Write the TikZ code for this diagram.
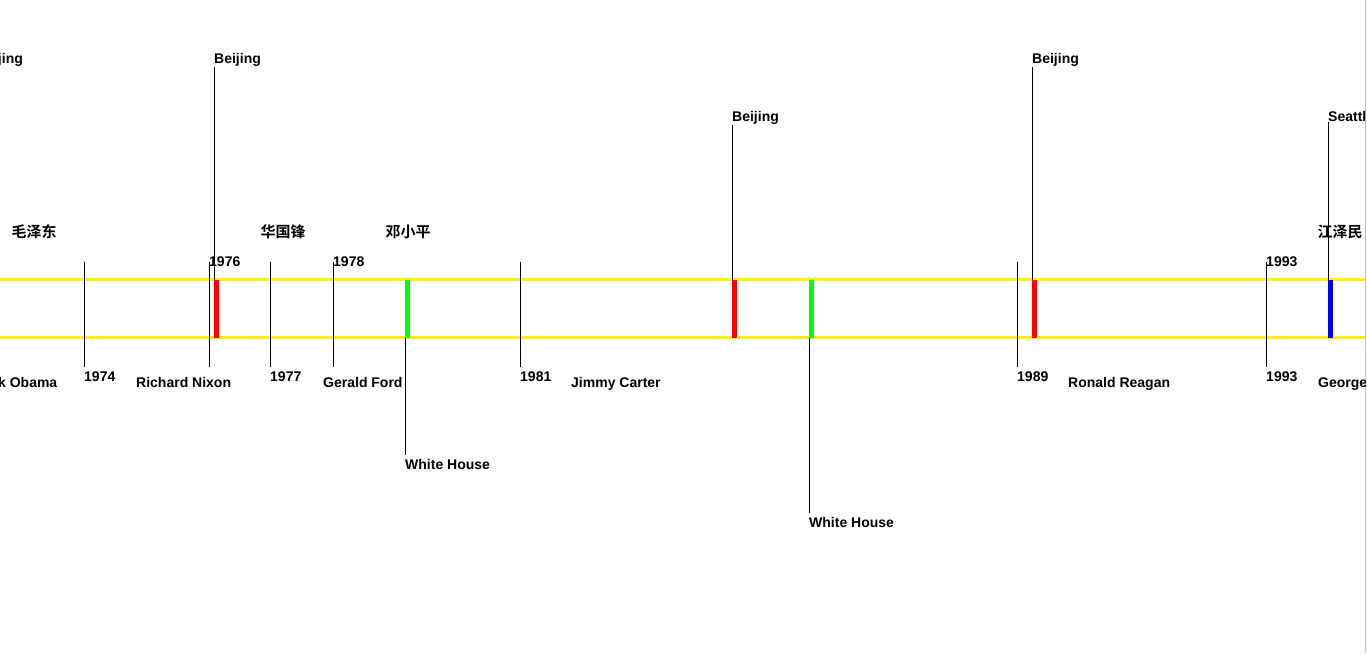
\documentclass[tikz,border=0pt]{standalone}
\usepackage{fontspec}
\setmainfont{Liberation Sans}
\newfontfamily\cjkfont{Noto Sans CJK SC}[BoldFont={* Bold}]
\tikzset{
  lbl/.style={inner sep=0pt, anchor=base west, font=\fontsize{14}{16}\selectfont\bfseries},
  cjk/.style={inner sep=0pt, anchor=base west, font=\fontsize{15}{17}\selectfont\cjkfont\bfseries},
  bar/.style={fill=#1, draw=none, minimum width=5pt, minimum height=57.5pt, inner sep=0pt, anchor=north west},
  rail/.style={yellow, line width=3pt},
  tick/.style={black, line width=1pt},
  conn/.style={black, line width=1pt},
}
\begin{document}
\begin{tikzpicture}[x=1pt,y=-1pt]
\useasboundingbox (0,0) rectangle (1367,653);
\draw[black!25, line width=1pt] (1365.5,0) -- (1365.5,653);
\begin{scope}
\clip (0,0) rectangle (1365,653);
% rails
\coordinate (r1a) at (0,279.5); \coordinate (r1b) at (1365,279.5);
\coordinate (r2a) at (0,337);   \coordinate (r2b) at (1365,337);
\draw[rail] (r1a) -- (r1b);
\draw[rail] (r2a) -- (r2b);
% year ticks
\foreach \n/\x in {a/84,b/209,c/270,d/333,e/520,f/1017,g/1266}{
  \coordinate (tt\n) at (\x+0.5,262);
  \coordinate (tb\n) at (\x+0.5,367);
  \draw[tick] (tt\n) -- (tb\n);
}
% year labels
\node[lbl] (y74) at (84,381.5) {1974};
\node[lbl] (y76) at (209,266) {1976};
\node[lbl] (y77) at (270,381.5) {1977};
\node[lbl] (y78) at (333,266) {1978};
\node[lbl] (y81) at (520,381.5) {1981};
\node[lbl] (y89) at (1017,381.5) {1989};
\node[lbl] (y93a) at (1266,266) {1993};
\node[lbl] (y93b) at (1266,381.5) {1993};
% US presidents
\node[lbl, anchor=base east] (obama) at (57.5,387) {Barack Obama};
\node[lbl] (nixon) at (136,387) {Richard Nixon};
\node[lbl] (ford) at (323,387) {Gerald Ford};
\node[lbl] (carter) at (571,387) {Jimmy Carter};
\node[lbl] (reagan) at (1068,387) {Ronald Reagan};
\node[lbl] (bush) at (1318,387) {George Bush};
% Chinese leaders
\node[cjk] (mao) at (11.5,237.5) {毛泽东};
\node[cjk] (hua) at (260.5,237.5) {华国锋};
\node[cjk] (deng) at (385.5,237.5) {邓小平};
\node[cjk] (jiang) at (1317.5,237.5) {江泽民};
% event bars
\node[bar=red] (e1) at (214,280) {};
\node[bar=green] (e2) at (405,280) {};
\node[bar=red] (e3) at (732,280) {};
\node[bar=green] (e4) at (809,280) {};
\node[bar=red] (e5) at (1032,280) {};
\node[bar=blue] (e6) at (1328,280) {};
% event labels
\node[lbl] (p0) at (-24,63.5) {Beijing};
\node[lbl] (p1) at (214,63.5) {Beijing};
\node[lbl] (p2) at (405,469) {White House};
\node[lbl] (p3) at (732,121.5) {Beijing};
\node[lbl] (p4) at (809,527) {White House};
\node[lbl] (p5) at (1032,63.5) {Beijing};
\node[lbl] (p6) at (1328,121.5) {Seattle};
% connectors
\draw[conn] ([xshift=0.5pt]p1.south west) -- ([xshift=0.5pt]e1.north west);
\draw[conn] ([xshift=0.5pt]p3.south west) -- ([xshift=0.5pt]e3.north west);
\draw[conn] ([xshift=0.5pt]p5.south west) -- ([xshift=0.5pt]e5.north west);
\draw[conn] ([xshift=0.5pt]p6.south west) -- ([xshift=0.5pt]e6.north west);
\draw[conn] ([xshift=0.5pt]e2.south west) -- ([xshift=0.5pt,yshift=4pt]p2.north west);
\draw[conn] ([xshift=0.5pt]e4.south west) -- ([xshift=0.5pt,yshift=4pt]p4.north west);
\end{scope}
\end{tikzpicture}
\end{document}
